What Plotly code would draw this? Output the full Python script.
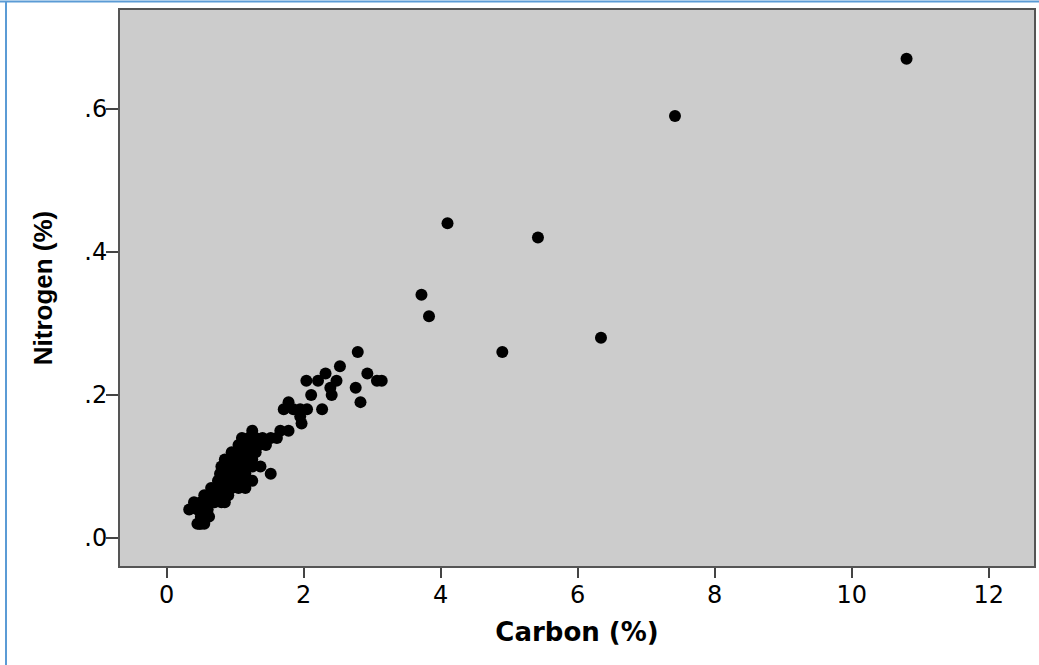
import plotly.graph_objects as go

# Data: Carbon (%) vs Nitrogen (%)
carbon = [
    # outliers
    10.8, 7.42, 4.10, 5.42, 3.72, 3.83, 6.34, 4.90,
    # upper cluster
    2.79, 2.53, 2.93, 2.32, 2.04, 2.21, 2.48, 3.07, 3.14, 2.39, 2.76,
    2.11, 2.41, 2.83, 1.78, 1.71, 1.85, 1.95, 2.05, 2.27, 1.95, 1.97,
    1.25, 1.66, 1.78,
    1.10, 1.20, 1.30, 1.40, 1.52, 1.61,
    1.05, 1.12, 1.20, 1.35, 1.45,
    0.95, 1.05, 1.12, 1.18, 1.30,
    0.85, 0.92, 1.00, 1.08, 1.15, 1.25,
    0.80, 0.88, 0.95, 1.02, 1.10, 1.18, 1.25, 1.37,
    0.78, 0.85, 0.92, 1.00, 1.08, 1.15, 1.52,
    0.75, 0.82, 0.90, 0.98, 1.05, 1.12, 1.20, 1.25,
    0.65, 0.72, 0.80, 0.88, 0.95, 1.05, 1.15,
    0.55, 0.62, 0.70, 0.80, 0.90,
    0.40, 0.50, 0.62, 0.70, 0.80, 0.85,
    0.33, 0.45, 0.55, 0.60,
    0.50, 0.58, 0.62,
    0.45, 0.50, 0.55, 0.48,
]
nitrogen = [
    0.67, 0.59, 0.44, 0.42, 0.34, 0.31, 0.28, 0.26,
    0.26, 0.24, 0.23, 0.23, 0.22, 0.22, 0.22, 0.22, 0.22, 0.21, 0.21,
    0.20, 0.20, 0.19, 0.19, 0.18, 0.18, 0.18, 0.18, 0.18, 0.17, 0.16,
    0.15, 0.15, 0.15,
    0.14, 0.14, 0.14, 0.14, 0.14, 0.14,
    0.13, 0.13, 0.13, 0.13, 0.13,
    0.12, 0.12, 0.12, 0.12, 0.12,
    0.11, 0.11, 0.11, 0.11, 0.11, 0.11,
    0.10, 0.10, 0.10, 0.10, 0.10, 0.10, 0.10, 0.10,
    0.09, 0.09, 0.09, 0.09, 0.09, 0.09, 0.09,
    0.08, 0.08, 0.08, 0.08, 0.08, 0.08, 0.08, 0.08,
    0.07, 0.07, 0.07, 0.07, 0.07, 0.07, 0.07,
    0.06, 0.06, 0.06, 0.06, 0.06,
    0.05, 0.05, 0.05, 0.05, 0.05, 0.05,
    0.04, 0.04, 0.04, 0.04,
    0.03, 0.03, 0.03,
    0.02, 0.02, 0.02, 0.02,
]

x_ticks = [0, 2, 4, 6, 8, 10, 12]
y_ticks = [0.0, 0.2, 0.4, 0.6]
y_tick_labels = [".0", ".2", ".4", ".6"]

W, H = 1039, 665
L, R, T, B = 120, 5, 10, 99
pw, ph = W - L - R, H - T - B


def px_x(p):
    return (p - L) / pw


def px_y(p):
    return (H - B - p) / ph


fig = go.Figure()
fig.add_trace(go.Scatter(
    x=carbon, y=nitrogen, mode="markers",
    marker=dict(color="black", size=12, line=dict(width=0)),
    showlegend=False, hoverinfo="x+y",
))

blue = "#5B9BD5"
fig.add_shape(type="line", xref="paper", yref="paper",
              x0=px_x(0), x1=px_x(W), y0=px_y(1.5), y1=px_y(1.5),
              line=dict(color=blue, width=2))
fig.add_shape(type="line", xref="paper", yref="paper",
              x0=px_x(6), x1=px_x(6), y0=px_y(1.5), y1=px_y(H),
              line=dict(color=blue, width=2))

fig.update_layout(
    width=W, height=H,
    margin=dict(l=L, r=R, t=T, b=B, autoexpand=False),
    paper_bgcolor="white",
    plot_bgcolor="#CCCCCC",
    font=dict(family="DejaVu Sans", color="black"),
    xaxis=dict(
        range=[-0.68, 12.66], tickvals=x_ticks,
        ticks="outside", ticklen=10, tickwidth=2, tickcolor="#444",
        showgrid=False, zeroline=False,
        showline=True, linecolor="#555", linewidth=2, mirror=True,
        tickfont=dict(size=24, family="DejaVu Sans"),
        ticklabelstandoff=-4,
        title=dict(text="<b>Carbon (%)</b>", font=dict(size=26, family="DejaVu Sans"), standoff=15),
        automargin=False,
    ),
    yaxis=dict(
        range=[-0.039, 0.738], tickvals=y_ticks, ticktext=y_tick_labels,
        ticks="outside", ticklen=12, tickwidth=2, tickcolor="#444",
        showgrid=False, zeroline=False,
        showline=True, linecolor="#555", linewidth=2, mirror=True,
        tickfont=dict(size=24, family="DejaVu Sans"),
        ticklabelstandoff=-6,
        title=dict(text="<b>Nitrogen (%)</b>", font=dict(size=26, family="Liberation Sans"), standoff=24),
        automargin=False,
    ),
)

fig.write_html(
    "out.html",
    config={"displayModeBar": False},
    post_script="document.body.style.margin='0';document.body.style.overflow='hidden';",
)
